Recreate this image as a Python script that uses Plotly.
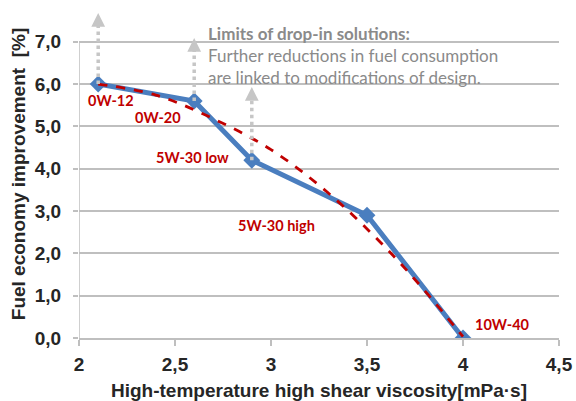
import plotly.graph_objects as go

# Data
oil_grades = ["0W-12", "0W-20", "5W-30 low", "5W-30 high", "10W-40"]
hths_visc = [2.1, 2.6, 2.9, 3.5, 4.0]
fuel_econ = [6.0, 5.6, 4.2, 2.9, 0.0]

trend_x = [2.1, 2.4, 2.7, 3.0, 3.3, 3.6, 3.8, 4.0]
trend_y = [6.0, 5.74, 5.18, 4.45, 3.42, 2.12, 1.12, 0.03]

arrow_x = [2.1, 2.6, 2.9]
arrow_base = [6.0, 5.6, 4.2]
arrow_top = [7.68, 7.09, 5.93]

label_x = [2.167, 2.409, 2.591, 3.029, 4.206]
label_y = [5.60, 5.20, 4.26, 2.65, 0.33]

y_ticks = [0, 1, 2, 3, 4, 5, 6, 7]
x_ticks = [2, 2.5, 3, 3.5, 4, 4.5]

note_title = "Limits of drop-in solutions:"
note_lines = ["Further reductions in fuel consumption", "are linked to modifications of design."]

GRID = "#bfbfbf"
BLUE = "#4a7ebf"
RED = "#c00000"
ARROW = "#c6c6c6"
TXT = "#262626"

fig = go.Figure()

fig.add_trace(go.Scatter(
    x=hths_visc, y=fuel_econ, mode="lines+markers",
    line=dict(color=BLUE, width=5),
    marker=dict(symbol="diamond", size=13, color=BLUE),
    showlegend=False, hoverinfo="skip"))

fig.add_trace(go.Scatter(
    x=trend_x, y=trend_y, mode="lines",
    line=dict(color=RED, width=2.8, dash="dash", shape="spline"),
    showlegend=False, hoverinfo="skip"))

for ax_, b, t in zip(arrow_x, arrow_base, arrow_top):
    fig.add_trace(go.Scatter(
        x=[ax_, ax_], y=[b, t - 0.12], mode="lines",
        line=dict(color=ARROW, width=3.5, dash="dot"),
        showlegend=False, hoverinfo="skip"))
    fig.add_annotation(
        x=ax_, y=t, ax=ax_, ay=t - 0.3, xref="x", yref="y", axref="x", ayref="y",
        showarrow=True, arrowhead=2, arrowsize=1.1, arrowwidth=2.5,
        arrowcolor=ARROW, text="")

for name, lx, ly in zip(oil_grades, label_x, label_y):
    fig.add_annotation(
        x=lx, y=ly, text="<b>" + name + "</b>", showarrow=False,
        font=dict(family="Lato", size=14.5, color=RED),
        xanchor="center", yanchor="middle")

fig.add_annotation(
    x=2.66, y=7.49, xref="x", yref="y", xanchor="left", yanchor="top",
    align="left", showarrow=False,
    text="<b>" + note_title + "</b><br>" + "<br>".join(note_lines),
    font=dict(family="Lato", size=17, color="#8a8a8a"))

# y axis line from 0 to 7
fig.add_shape(type="line", x0=2, x1=2, y0=0, y1=7, xref="x", yref="y",
              line=dict(color=GRID, width=1.5))

fig.update_layout(
    width=576, height=401,
    margin=dict(l=79, r=17, t=10, b=63, autoexpand=False),
    plot_bgcolor="white", paper_bgcolor="white",
    separators=",.",
    xaxis=dict(
        range=[2, 4.5], tickvals=x_ticks, tickformat="",
        showgrid=False, zeroline=False, automargin=False,
        showline=True, linecolor=GRID, linewidth=1.5,
        ticks="outside", ticklen=6, tickcolor=GRID, tickwidth=1.5,
        ticklabelstandoff=2,
        tickfont=dict(family="Liberation Sans", size=19, color=TXT, weight="bold"),
        title=dict(text="<b>High-temperature high shear viscosity[mPa·s]</b>",
                   font=dict(family="Liberation Sans", size=19, color=TXT),
                   standoff=10),
    ),
    yaxis=dict(
        range=[0, 7.75], tickvals=y_ticks, tickformat=".1f",
        showgrid=True, gridcolor=GRID, gridwidth=1.5,
        zeroline=False, showline=False, automargin=False,
        ticks="outside", ticklen=5, tickcolor=GRID, tickwidth=1.5,
        ticklabelstandoff=8,
        tickfont=dict(family="Liberation Sans", size=19, color=TXT, weight="bold"),
        title=dict(text="<b>Fuel economy improvement  [%]</b>",
                   font=dict(family="Liberation Sans", size=19, color=TXT),
                   standoff=4),
    ),
)

fig.write_html("out.html", config={"displayModeBar": False},
               post_script="document.body.style.margin='0';")
